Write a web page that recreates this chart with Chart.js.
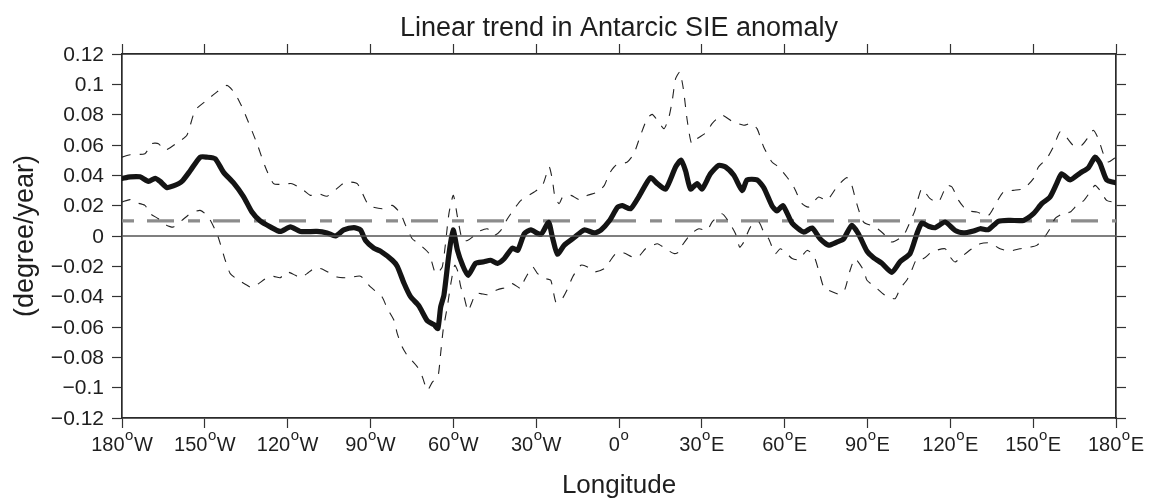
<!DOCTYPE html>
<html>
<head>
<meta charset="utf-8">
<title>Linear trend in Antarcic SIE anomaly</title>
<script src="https://cdn.jsdelivr.net/npm/chart.js@4"></script>
<style>
    html, body { margin: 0; padding: 0; background: #fff; }
    #wrap { width: 1150px; height: 500px; }
</style>
</head>
<body>
<div id="wrap"><canvas id="trendChart" width="1150" height="500"></canvas></div>
<script>
// SIE anomaly trend by longitude (degree/year)
const xTickValues = [-180, -150, -120, -90, -60, -30, 0, 30, 60, 90, 120, 150, 180];
const xTickLabels = ['180°W', '150°W', '120°W', '90°W', '60°W', '30°W', '0°', '30°E', '60°E', '90°E', '120°E', '150°E', '180°E'];
const yTickValues = [-0.12, -0.1, -0.08, -0.06, -0.04, -0.02, 0, 0.02, 0.04, 0.06, 0.08, 0.1, 0.12];
const yTickLabels = ['−0.12', '−0.1', '−0.08', '−0.06', '−0.04', '−0.02', '0', '0.02', '0.04', '0.06', '0.08', '0.1', '0.12'];

// significance threshold
const thresholdValue = 0.01;

// ensemble mean trend
const meanLon = [
    -180, -177, -173.5, -170.4, -168, -166.2, -163.8, -161.4, -158.3, -155.3,
    -151.7, -149.3, -146.3, -143.2, -139.6, -136, -133, -130, -126.3, -122.7,
    -119, -115.4, -109.4, -105.7, -102.7, -99.7, -96, -93.6, -91.8, -88.8,
    -86.4, -82.1, -80.3, -77.9, -75.5, -72.5, -69.4, -67, -65.6, -64.6,
    -63.4, -61.6, -60.1, -58.5, -56.7, -54.7, -51.9, -48.9, -46.5, -44,
    -41.6, -38.6, -36.7, -34.3, -31.9, -28.3, -25.5, -24.1, -22.3, -19.8,
    -16.2, -12.6, -8.9, -6.5, -3.5, -0.5, 1.2, 4.2, 7.2, 11.4,
    13.9, 16.9, 20.5, 22.5, 24.1, 25.9, 28.3, 30.1, 33.1, 36.1,
    38.6, 41.6, 44.6, 46.4, 50, 52.4, 55.4, 57.2, 59.4, 62.7,
    66.9, 69.9, 72.9, 75.9, 78.9, 81.3, 84.3, 86.7, 89.8, 92.2,
    95.2, 98.8, 101.8, 105.4, 107.9, 109.7, 112.1, 114.5, 118.1, 121.7,
    124.7, 128.4, 130.8, 133.8, 137.4, 141.6, 146.5, 150.1, 153.1, 156.1,
    158.5, 160.3, 163.4, 167, 170, 172.4, 174.2, 176.6, 180
];
const meanVal = [
    0.038, 0.039, 0.039, 0.036, 0.038, 0.036, 0.032, 0.033, 0.036, 0.043,
    0.052, 0.052, 0.051, 0.042, 0.035, 0.026, 0.016, 0.010, 0.006, 0.003,
    0.006, 0.003, 0.003, 0.002, 0.000, 0.004, 0.0055, 0.004, -0.003, -0.008,
    -0.010, -0.016, -0.020, -0.031, -0.040, -0.046, -0.056, -0.0585, -0.061, -0.047,
    -0.039, -0.012, 0.004, -0.0095, -0.019, -0.026, -0.018, -0.017, -0.016, -0.018,
    -0.015, -0.008, -0.0095, 0.0015, 0.004, 0.001, 0.009, -0.001, -0.012, -0.006,
    -0.001, 0.004, 0.002, 0.004, 0.010, 0.019, 0.020, 0.018, 0.026, 0.0385,
    0.0345, 0.031, 0.0455, 0.050, 0.043, 0.031, 0.0345, 0.031, 0.041, 0.0465,
    0.0455, 0.040, 0.030, 0.037, 0.037, 0.032, 0.020, 0.0165, 0.020, 0.0085,
    0.0026, 0.0053, -0.002, -0.006, -0.004, -0.002, 0.007, 0.0015, -0.010, -0.0143,
    -0.018, -0.024, -0.017, -0.0116, 0.0015, 0.0086, 0.0064, 0.0055, 0.0092, 0.0037,
    0.002, 0.0033, 0.0048, 0.0042, 0.0097, 0.0103, 0.0103, 0.0147, 0.0213, 0.0257,
    0.0345, 0.041, 0.037, 0.0415, 0.045, 0.052, 0.048, 0.037, 0.035
];

// upper bound of the spread
const upperLon = [
    -180, -177.1, -171.7, -169.2, -166.8, -164.4, -159.6, -156.5, -153.5, -149.3,
    -145.6, -142, -139, -136, -131.1, -128.1, -125.1, -122, -118.4, -114.2,
    -111.8, -108.7, -105.7, -100.8, -99, -94.8, -90.6, -85.8, -82.1, -79.1,
    -77.3, -74.9, -72.5, -68.8, -66.4, -64, -61.6, -60, -58.5, -56.7,
    -54.9, -53.1, -51.2, -47.7, -45.2, -42.8, -40.4, -37.9, -35.5, -30.7,
    -27.7, -25.3, -24.1, -23.2, -21.7, -20.4, -17.4, -14.4, -11.4, -7.7,
    -5.3, -3.5, -1.1, 3, 5.4, 7.8, 10.2, 12, 13.9, 16.3,
    18.1, 19.3, 20.5, 22, 23.3, 24.7, 26.3, 28.3, 31.9, 33.7,
    37.3, 41, 45.2, 47.6, 50, 52.4, 55.4, 57.8, 60.8, 63.3,
    66.3, 68.7, 72.3, 75.3, 78.9, 82.5, 84.3, 86.1, 88.6, 92.8,
    95.8, 98.8, 103, 105.4, 107.2, 108.5, 109.7, 112.7, 115.7, 118.7,
    120.6, 123, 126, 129.6, 133.8, 136.8, 139.2, 142.8, 146.5, 150.1,
    151.9, 154.9, 157.3, 159.7, 161.5, 164.5, 167.6, 170, 171.8, 173.6,
    175.4, 177.2, 180
];
const upperVal = [
    0.052, 0.0536, 0.0543, 0.0609, 0.0609, 0.0565, 0.062, 0.0664, 0.0829, 0.0895,
    0.095, 0.0993, 0.0938, 0.0829, 0.0609, 0.0455, 0.0345, 0.0341, 0.0345, 0.0301,
    0.0268, 0.0279, 0.0262, 0.0334, 0.0356, 0.0345, 0.0202, 0.018, 0.0202, 0.0147,
    0.007, -0.0018, -0.0051, -0.0116, -0.0248, -0.0204, 0.0147, 0.0268, 0.0125, -0.0029,
    -0.0029, -0.0007, 0.0026, 0.0048, 0.0004, 0.0037, 0.0114, 0.018, 0.0235, 0.029,
    0.0334, 0.0455, 0.0367, 0.0257, 0.0213, 0.0257, 0.0268, 0.024, 0.0268, 0.029,
    0.0334, 0.0411, 0.0466, 0.0488, 0.0543, 0.0664, 0.0774, 0.0802, 0.0763, 0.0708,
    0.0785, 0.0895, 0.1037, 0.1081, 0.0971, 0.0763, 0.0609, 0.0642, 0.0686, 0.0741,
    0.0796, 0.0756, 0.073, 0.0741, 0.0708, 0.0587, 0.0488, 0.0455, 0.0389, 0.0323,
    0.0213, 0.0191, 0.0257, 0.0235, 0.0323, 0.0385, 0.0334, 0.0213, 0.0092, 0.0059,
    0.0015, -0.004, 0.0004, 0.0092, 0.0169, 0.0257, 0.0312, 0.0246, 0.0224, 0.0334,
    0.0323, 0.0235, 0.0169, 0.0158, 0.0136, 0.0224, 0.029, 0.0301, 0.0312, 0.0378,
    0.0455, 0.051, 0.0587, 0.0686, 0.0664, 0.0598, 0.0598, 0.0653, 0.0697, 0.0642,
    0.0543, 0.0488, 0.052
];

// lower bound of the spread
const lowerLon = [
    -180, -177.1, -175.9, -171.7, -169.8, -166.8, -163.8, -161.4, -158.3, -155.3,
    -151.7, -148.7, -145.6, -144.4, -142.6, -140.8, -137.7, -134.7, -132.9, -130.5,
    -127.5, -125.1, -122.7, -120.3, -117.2, -115.4, -113, -110, -107, -102.1,
    -97.9, -93.6, -90, -85.8, -83.9, -81.5, -80.3, -78.5, -76.7, -73,
    -71.2, -69.4, -67.6, -65.6, -64.6, -63.7, -62.2, -60.7, -59.5, -58.5,
    -57.3, -56.1, -54.7, -53.7, -51.9, -50.1, -47.7, -44, -40.4, -38.6,
    -35.5, -34.3, -31.3, -29.5, -26.5, -24.7, -22.9, -21.1, -18.6, -16.8,
    -13.8, -11.4, -8.9, -5.3, -3.5, -1.1, 1.8, 4.8, 7.2, 9.6,
    13.9, 16.3, 19.9, 21.7, 22.9, 25.9, 28.9, 31.9, 33.7, 37.3,
    39.8, 42.2, 43.7, 45.2, 47.6, 50.6, 52.4, 54.2, 56.6, 58.4,
    60.2, 62.7, 65.1, 68.1, 70.5, 72.3, 74.1, 75.9, 80.1, 81.9,
    83.7, 85.5, 88.6, 89.8, 92.8, 96.4, 100, 101.8, 104.2, 106,
    107.9, 110.3, 113.3, 118.1, 119.9, 121.7, 124.7, 127.8, 130.8, 134.4,
    138, 141.6, 145.2, 148.9, 151.3, 153.7, 156.1, 157.9, 160.3, 163.4,
    165.8, 168.2, 170.6, 172.4, 174.2, 176.6, 180
];
const lowerVal = [
    0.0224, 0.024, 0.0224, 0.0202, 0.0147, 0.0114, 0.007, 0.0059, 0.0103, 0.0147,
    0.0169, 0.0125, 0.0015, -0.0051, -0.016, -0.0248, -0.0292, -0.0325, -0.0341, -0.0314,
    -0.0275, -0.0266, -0.0275, -0.0237, -0.0259, -0.0277, -0.0248, -0.0209, -0.0222, -0.027,
    -0.0275, -0.0265, -0.0336, -0.0402, -0.0479, -0.0556, -0.0644, -0.0732, -0.0787, -0.0864,
    -0.093, -0.1018, -0.0963, -0.093, -0.0776, -0.0622, -0.0468, -0.0292, -0.0193, -0.0226,
    -0.0336, -0.0402, -0.0495, -0.0457, -0.038, -0.038, -0.0387, -0.0354, -0.0336, -0.0314,
    -0.0347, -0.0292, -0.0204, -0.0248, -0.0281, -0.0292, -0.0435, -0.0429, -0.0347, -0.027,
    -0.0193, -0.0204, -0.0237, -0.0215, -0.0171, -0.0116, -0.0112, -0.0138, -0.0134, -0.0084,
    -0.0051, -0.0077, -0.0116, -0.0105, -0.0062, 0.0011, 0.0048, 0.0037, 0.0092, 0.0147,
    0.0092, 0.0015, -0.0073, -0.004, 0.0059, 0.0092, 0.0026, -0.0018, -0.0116, -0.0084,
    -0.0105, -0.0149, -0.0156, -0.0095, -0.0127, -0.0226, -0.0336, -0.0358, -0.0385, -0.0347,
    -0.0226, -0.0149, -0.0226, -0.0292, -0.0336, -0.0391, -0.0413, -0.0347, -0.0292, -0.0226,
    -0.0149, -0.0149, -0.0105, -0.0084, -0.0138, -0.0171, -0.0127, -0.0084, -0.0051, -0.0046,
    -0.0084, -0.0099, -0.0084, -0.0073, -0.0062, -0.0018, 0.0048, 0.0114, 0.0143, 0.0158,
    0.0202, 0.0231, 0.029, 0.0334, 0.0301, 0.0235, 0.022
];

const FONT = '"Liberation Sans", Arial, Helvetica, sans-serif';
const INK = '#1e1e1e';

const toPoints = (xs, ys) => xs.map((x, i) => ({ x: x, y: ys[i] }));
const lonMin = xTickValues[0], lonMax = xTickValues[xTickValues.length - 1];

// axis frame with outward ticks, no labels (text is drawn by the plugin below)
function frameAxis(position, extra) {
    return Object.assign({
        position: position,
        grid: { drawOnChartArea: false, drawTicks: true, tickLength: 10, tickColor: '#333', tickWidth: 1.2 },
        border: { display: true, color: '#2a2a2a', width: 1.7 },
        ticks: { display: false },
        afterFit: s => { if (s.isHorizontal()) s.height = 0; else s.width = 0; }
    }, extra);
}
const xAxis = extra => frameAxis(extra.position, Object.assign({
    type: 'linear', min: lonMin, max: lonMax,
    afterBuildTicks: s => { s.ticks = xTickValues.map(v => ({ value: v })); }
}, extra));
const yAxis = extra => frameAxis(extra.position, Object.assign({
    type: 'linear', min: yTickValues[0], max: yTickValues[yTickValues.length - 1],
    afterBuildTicks: s => { s.ticks = yTickValues.map(v => ({ value: v })); }
}, extra));

// titles and tick labels (degree as superscript "o")
const textPlugin = {
    id: 'textPlugin',
    afterDraw(chart) {
        const ctx = chart.ctx, area = chart.chartArea;
        const xs = chart.scales.x, ys = chart.scales.y;
        const midX = (area.left + area.right) / 2;
        ctx.save();
        ctx.fillStyle = INK;

        ctx.font = '27px ' + FONT;
        ctx.textAlign = 'center';
        ctx.textBaseline = 'alphabetic';
        ctx.fillText('Linear trend in Antarcic SIE anomaly', midX, 36);

        ctx.font = '26px ' + FONT;
        ctx.fillText('Longitude', midX, 493);

        ctx.save();
        ctx.translate(33, (area.top + area.bottom) / 2);
        ctx.rotate(-Math.PI / 2);
        ctx.font = '27px ' + FONT;
        ctx.fillText('(degree/year)', 0, 0);
        ctx.restore();

        // y tick labels
        ctx.font = '21px ' + FONT;
        ctx.textAlign = 'right';
        ctx.textBaseline = 'middle';
        yTickValues.forEach((v, i) => {
            ctx.fillText(yTickLabels[i], area.left - 18, ys.getPixelForValue(v) + 1);
        });

        // x tick labels
        ctx.textAlign = 'left';
        ctx.textBaseline = 'alphabetic';
        const base = area.bottom + 33;
        xTickValues.forEach((v, i) => {
            const parts = xTickLabels[i].split('°');
            ctx.font = '20px ' + FONT;
            const wNum = ctx.measureText(parts[0]).width;
            const wHem = ctx.measureText(parts[1]).width;
            ctx.font = '15px ' + FONT;
            const wSup = ctx.measureText('o').width + 1;
            let x = xs.getPixelForValue(v) - (wNum + wSup + wHem) / 2;
            ctx.font = '20px ' + FONT;
            ctx.fillText(parts[0], x, base);
            ctx.font = '15px ' + FONT;
            ctx.fillText('o', x + wNum + 0.5, base - 11);
            ctx.font = '20px ' + FONT;
            ctx.fillText(parts[1], x + wNum + wSup, base);
        });
        ctx.restore();
    }
};

const chart = new Chart(document.getElementById('trendChart'), {
    type: 'line',
    data: {
        datasets: [
            {
                data: [{ x: lonMin, y: 0 }, { x: lonMax, y: 0 }],
                borderColor: '#555', borderWidth: 1.3
            },
            {
                data: toPoints(upperLon, upperVal),
                borderColor: '#222', borderWidth: 1.1, borderDash: [9, 9], tension: 0.2
            },
            {
                data: toPoints(lowerLon, lowerVal),
                borderColor: '#222', borderWidth: 1.1, borderDash: [9, 9], tension: 0.2
            },
            {
                data: toPoints(meanLon, meanVal),
                borderColor: '#141414', borderWidth: 5.2, tension: 0.2,
                borderJoinStyle: 'round', borderCapStyle: 'round'
            },
            {
                data: [{ x: lonMin, y: thresholdValue }, { x: lonMax, y: thresholdValue }],
                borderColor: '#8c8c8c', borderWidth: 3.4, borderDash: [12, 13, 27, 14]
            }
        ]
    },
    options: {
        responsive: false,
        devicePixelRatio: 1,
        animation: false,
        elements: { point: { radius: 0, hoverRadius: 0 } },
        layout: { padding: { left: 122, right: 34, top: 54, bottom: 82 } },
        plugins: { legend: { display: false }, tooltip: { enabled: false }, title: { display: false } },
        scales: {
            x: xAxis({ position: 'bottom' }),
            x2: xAxis({ position: 'top' }),
            y: yAxis({ position: 'left' }),
            y2: yAxis({ position: 'right' })
        }
    },
    plugins: [textPlugin]
});
</script>
</body>
</html>
